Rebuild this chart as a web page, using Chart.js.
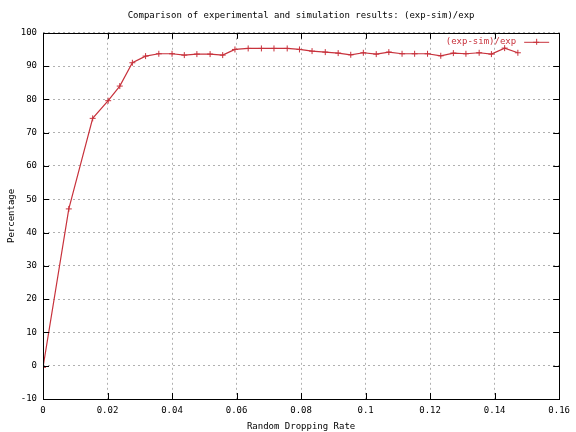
<!DOCTYPE html>
<html>
<head>
<meta charset="utf-8">
<script src="https://cdn.jsdelivr.net/npm/chart.js@4/dist/chart.umd.min.js"></script>
<style>
  html, body { margin: 0; padding: 0; background: #fff; }
  #wrap { width: 576px; height: 432px; }
</style>
</head>
<body>
<div id="wrap"><canvas id="chart" width="576" height="432"></canvas></div>
<script>
// dati
const rates = [0, 0.008, 0.0154, 0.0202, 0.0238, 0.0277, 0.0318, 0.0359, 0.04, 0.0438,
  0.0477, 0.0518, 0.0557, 0.0595, 0.0636, 0.0677, 0.0716, 0.0757, 0.0795, 0.0834,
  0.0875, 0.0915, 0.0954, 0.0993, 0.1033, 0.1072, 0.1113, 0.1152, 0.1192, 0.1233,
  0.1272, 0.1311, 0.1352, 0.139, 0.1431, 0.1472];
const percent = [-0.5, 47.1, 74.3, 79.6, 84, 91, 93, 93.7, 93.7, 93.3,
  93.6, 93.6, 93.3, 95.0, 95.3, 95.3, 95.3, 95.3, 95.0, 94.5,
  94.2, 93.9, 93.4, 94.0, 93.6, 94.2, 93.7, 93.7, 93.7, 93.1,
  93.9, 93.7, 94.0, 93.6, 95.4, 94.0];
const seriesName = '(exp-sim)/exp';
const xTicks = [0, 0.02, 0.04, 0.06, 0.08, 0.1, 0.12, 0.14, 0.16];
const yTicks = [-10, 0, 10, 20, 30, 40, 50, 60, 70, 80, 90, 100];

const RED = '#c8323c';
const FONT = "'DejaVu Sans Mono', monospace";

// bordo, tacche interne e legenda stile gnuplot
const gnuplotFrame = {
  id: 'gnuplotFrame',
  afterLayout(chart) {
    // titolo centrato sull'area del grafico, come gnuplot
    if (chart.titleBlock) {
      chart.titleBlock.left = chart.chartArea.left;
      chart.titleBlock.right = chart.chartArea.right;
    }
  },
  afterDraw(chart) {
    const { ctx, chartArea: a, scales } = chart;
    ctx.save();
    ctx.strokeStyle = '#000';
    ctx.lineWidth = 1;
    ctx.beginPath();
    xTicks.forEach(v => {
      const x = Math.round(scales.x.getPixelForValue(v)) + 0.5;
      ctx.moveTo(x, a.bottom); ctx.lineTo(x, a.bottom - 6);
      ctx.moveTo(x, a.top); ctx.lineTo(x, a.top + 6);
    });
    yTicks.forEach(v => {
      const y = Math.round(scales.y.getPixelForValue(v)) + 0.5;
      ctx.moveTo(a.left, y); ctx.lineTo(a.left + 6, y);
      ctx.moveTo(a.right, y); ctx.lineTo(a.right - 6, y);
    });
    ctx.stroke();
    ctx.strokeRect(Math.round(a.left) + 0.5, Math.round(a.top) + 0.5,
      Math.round(a.right - a.left), Math.round(a.bottom - a.top));

    // legenda
    const ly = a.top + 9;
    ctx.font = '9px ' + FONT;
    ctx.fillStyle = RED;
    ctx.textAlign = 'right';
    ctx.textBaseline = 'middle';
    ctx.fillText(seriesName, a.right - 43, ly);
    ctx.strokeStyle = RED;
    ctx.beginPath();
    ctx.moveTo(a.right - 35, ly + 0.5); ctx.lineTo(a.right - 10, ly + 0.5);
    const mx = a.right - 23;
    ctx.moveTo(mx - 3, ly + 0.5); ctx.lineTo(mx + 3, ly + 0.5);
    ctx.moveTo(mx + 0.5, ly - 3); ctx.lineTo(mx + 0.5, ly + 3);
    ctx.stroke();
    ctx.restore();
  }
};

new Chart(document.getElementById('chart'), {
  type: 'scatter',
  data: {
    datasets: [{
      label: seriesName,
      data: rates.map((r, i) => ({ x: r, y: percent[i] })),
      showLine: true,
      borderColor: RED,
      backgroundColor: RED,
      borderWidth: 1.2,
      pointStyle: 'cross',
      pointRadius: 3,
      pointBorderWidth: 1,
      tension: 0
    }]
  },
  options: {
    responsive: false,
    animation: false,
    layout: { padding: { top: 0, right: 16, left: 0, bottom: 0 } },
    plugins: {
      legend: { display: false },
      tooltip: { enabled: false },
      title: {
        display: true,
        text: 'Comparison of experimental and simulation results: (exp-sim)/exp',
        color: '#000',
        font: { family: FONT, size: 9, weight: 'normal' },
        padding: { top: 10, bottom: 12 }
      }
    },
    scales: {
      x: {
        type: 'linear',
        min: 0, max: 0.16,
        afterBuildTicks(s) { s.ticks = xTicks.map(v => ({ value: v })); },
        afterFit(s) { s.height = 33; },
        ticks: {
          color: '#000',
          font: { family: FONT, size: 9 },
          padding: 6,
          maxRotation: 0,
          callback: v => String(Number(v.toFixed(2)))
        },
        grid: { color: '#b0b0b0', drawTicks: false },
        border: { display: false, dash: [2, 3] },
        title: {
          display: true, text: 'Random Dropping Rate', color: '#000',
          font: { family: FONT, size: 9 }, padding: { top: 2, bottom: 0 }
        }
      },
      y: {
        min: -10, max: 100,
        afterBuildTicks(s) { s.ticks = yTicks.map(v => ({ value: v })); },
        afterFit(s) { s.width = 43; },
        ticks: {
          color: '#000',
          font: { family: FONT, size: 9 },
          padding: 6
        },
        grid: { color: '#b0b0b0', drawTicks: false },
        border: { display: false, dash: [2, 3] },
        title: {
          display: true, text: 'Percentage', color: '#000',
          font: { family: FONT, size: 9 }, padding: { top: 6, bottom: 0 }
        }
      }
    }
  },
  plugins: [gnuplotFrame]
});
</script>
</body>
</html>
